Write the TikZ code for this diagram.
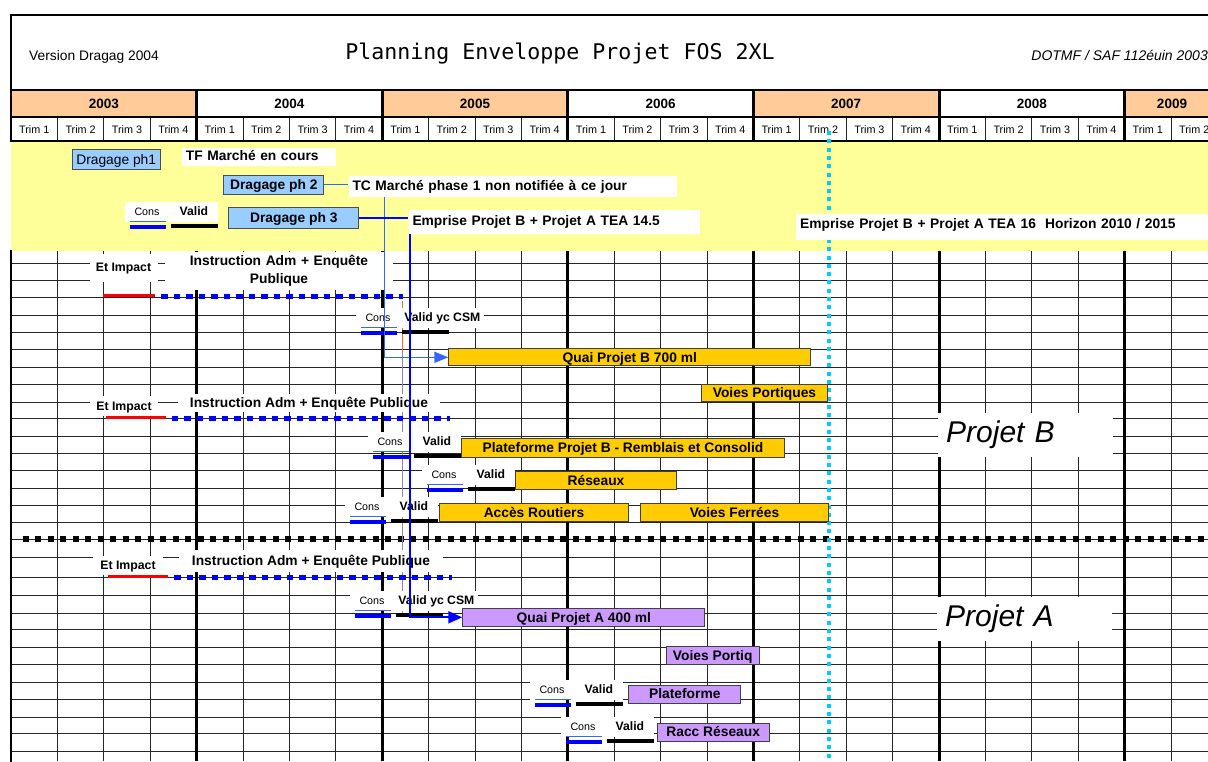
\documentclass[tikz,border=0pt]{standalone}
\usepackage{fontspec}
\setmainfont{Liberation Sans}
\newfontfamily\titlemono{DejaVu Sans Mono}
\usetikzlibrary{arrows.meta,positioning}
\definecolor{yearbg}{HTML}{FFCC99}
\definecolor{bandbg}{HTML}{FFFF99}
\definecolor{dredgebg}{HTML}{99CCFF}
\definecolor{projB}{HTML}{FFCC00}
\definecolor{projA}{HTML}{CC99FF}
\definecolor{milestone}{HTML}{00CCFF}
\definecolor{linkblue}{HTML}{3366FF}
\definecolor{deepblue}{HTML}{0000FF}
\definecolor{slate}{HTML}{8888C4}
\definecolor{amber}{HTML}{FF6A1A}
\newcommand{\bsz}{\fontsize{13.8}{18}\selectfont\bfseries}
% Cons / Valid pair: name, left end of the bars, y of the bars, valid text
\newcommand{\consval}[4]{%
  \node[cons] (#1c) at (#2+17,#3-14.5) {Cons};
  \node[valid, right=0pt of #1c] (#1v) {#4};
  \draw[consthin] (#2,#3-4.5) -- ++(36,0);
  \draw[consbar] (#2,#3+0.5) -- ++(36,0);
  \draw[validbar] (#2+41,#3) -- ++(47,0);}

\begin{document}
\begin{tikzpicture}[x=1pt, y=-1pt,
  every node/.style={inner sep=0pt},
  hdr/.style={font=\fontsize{13.8}{16}\selectfont},
  yrlbl/.style={anchor=base, font=\fontsize{13.5}{16}\selectfont\bfseries},
  trimlbl/.style={anchor=base, font=\fontsize{10.8}{12}\selectfont},
  frameln/.style={line width=2.5pt, line cap=rect},
  yearln/.style={line width=3pt},
  gridln/.style={draw=black!85, line width=0.9pt},
  dredge/.style={draw=black!70, fill=dredgebg, line width=1pt, anchor=west,
                 font=\bsz, text height=9.9pt, text depth=0pt},
  lbl/.style={fill=white, anchor=west, align=left, inner xsep=4pt,
              font=\bsz, text height=9.9pt, text depth=2pt},
  implbl/.style={fill=white, minimum width=68pt, minimum height=20pt,
                 font=\fontsize{12.3}{14}\selectfont\bfseries,
                 text height=8.8pt, text depth=0pt},
  inslbl/.style={fill=white, font=\bsz, align=center},
  cons/.style={fill=white, minimum width=44pt, minimum height=20pt,
               font=\fontsize{10.7}{12}\selectfont, text height=7.7pt, text depth=0pt},
  valid/.style={fill=white, minimum width=49pt, minimum height=20pt, inner xsep=4pt,
                font=\fontsize{12.2}{14}\selectfont\bfseries, text height=8.8pt, text depth=0pt},
  task/.style={draw=black!75, line width=1pt, anchor=west, minimum height=18pt,
               font=\bsz, text height=9.9pt, text depth=0pt},
  taskB/.style={task, fill=projB},
  taskA/.style={task, fill=projA},
  projlbl/.style={fill=white, anchor=west, align=left, text width=159pt, inner xsep=8pt,
                  minimum height=44pt, font=\fontsize{30}{34}\selectfont\itshape,
                  text height=21.5pt, text depth=6.6pt},
  consthin/.style={draw=linkblue, line width=1pt},
  consbar/.style={draw=deepblue, line width=4pt},
  validbar/.style={draw=black, line width=3.5pt},
  impbar/.style={draw=red, line width=3pt},
  insdots/.style={draw=deepblue, line width=5.5pt, dash pattern=on 6.5pt off 6pt},
  splitln/.style={draw=black, line width=6pt, dash pattern=on 6pt off 6.5pt},
  today/.style={draw=milestone, line width=4pt, dash pattern=on 4pt off 4.3pt},
  lnk/.style={draw=linkblue, line width=1.5pt},
  lnkB/.style={lnk, -{Triangle[length=14pt,width=11pt]}},
  lnkdeep/.style={draw=deepblue, line width=2pt},
  lnkA/.style={lnkdeep, -{Triangle[length=14pt,width=12pt]}}
]
\path[use as bounding box, clip] (0,0) rectangle (1208,761);
\fill[white] (0,0) rectangle (1208,761);

% years and quarters
\foreach \k/\yr/\fc in {0/2003/yearbg, 1/2004/white, 2/2005/yearbg, 3/2006/white,
                        4/2007/yearbg, 5/2008/white}{
  \fill[\fc] (11+185.6*\k,90) rectangle ++(185.6,27);
  \node[yrlbl] (y\yr) at (11+185.6*\k+92.8,108.3) {\yr};
}
\fill[yearbg] (1124.6,90) rectangle (1208,117);
\node[yrlbl] (y2009) at (1172,108.3) {2009};
\foreach \k in {0,...,25}{
  \pgfmathtruncatemacro{\q}{mod(\k,4)+1}
  \node[trimlbl] (t\k) at (11+46.4*\k+23.2,133.3) {Trim \q};
}
\fill[bandbg] (11,141) rectangle (1208,251);

% grid
\foreach \k in {1,...,25}{
  \draw[gridln] (11+46.4*\k,117) -- ++(0,24);
  \draw[gridln] (11+46.4*\k,251) -- (11+46.4*\k,761);
}
\foreach \r in {263,280,297,315,332,349,367,384,402,418,436,453,470,488,505,522,
                539,557,577,595,613,629,647,664,682,699,717,733,751}
  \draw[gridln] (11,\r) -- (1208,\r);
\foreach \k in {1,...,6}{
  \draw[yearln] (11+185.6*\k,90) -- ++(0,51);
  \draw[yearln] (11+185.6*\k,251) -- (11+185.6*\k,761);
}
\draw[frameln] (1208,15) -- (11,15) -- (11,141);
\draw[frameln] (11,251) -- (11,761);
\draw[frameln] (11,90) -- (1208,90);
\draw[frameln] (11,117) -- (1208,117);
\draw[frameln] (11,141) -- (1208,141);

\node[hdr, anchor=base west] (ver) at (29,60) {Version Dragag 2004};
\node[anchor=base, font=\titlemono\fontsize{21.6}{24}\selectfont] (title)
  at (560,59.3) {Planning Enveloppe Projet FOS 2XL};
\node[anchor=base east, font=\fontsize{14}{16}\selectfont\itshape] (dotmf)
  at (1208,60) {DOTMF / SAF 112éuin 2003};

% separators
\draw[splitln] (22.7,539.3) -- (1208,539.3);
\coordinate (todayTop) at (828.7,131);
\draw[today] (todayTop) -- (828.7,761);
\coordinate (insEnd) at (402.3,301);
\coordinate (relay) at (402.3,352);
\coordinate (relayEnd) at (402.3,617);
\draw[amber, line width=1.5pt] (insEnd) -- (relay);
\draw[slate, line width=1.5pt] (relay) -- (relayEnd);

% dredging
\node[dredge, minimum width=88pt, minimum height=20pt, font=\fontsize{13.8}{16}\selectfont]
  (dph1) at (71.7,159.3) {Dragage ph1};
\node[dredge, minimum width=100pt, minimum height=19pt] (dph2) at (223.3,184.7) {Dragage ph 2};
\node[dredge, minimum width=130pt, minimum height=21pt] (dph3) at (228.3,218) {Dragage ph 3};
\node[lbl, text width=146pt, minimum height=18pt] (tfm) at (181.7,156.7) {TF Marché en cours};
\node[lbl, text width=320pt, minimum height=21pt] (tcm) at (348.3,186.3)
  {TC Marché phase 1 non notifiée à ce jour};
\node[lbl, text width=283pt, minimum height=24pt] (emp1) at (408.3,222)
  {Emprise Projet B + Projet A TEA 14.5};
\node[lbl, text width=420pt, minimum height=26pt, text depth=6pt] (emp2) at (796,227)
  {Emprise Projet B + Projet A TEA 16\ \ Horizon 2010 / 2015};
\consval{cv0}{130}{226}{Valid}

% Projet B
\draw[impbar] (103.3,295.5) -- (155,295.5);
\draw[insdots] (161,296.7) -- (403,296.7);
\draw[impbar] (106,417.7) -- (165.7,417.7);
\draw[insdots] (171.7,418.3) -- (450,418.3);
\node[implbl, minimum height=28pt] (eti1) at (123.5,267.5) {Et Impact};
\node[inslbl, text width=220pt, minimum width=228pt, minimum height=38pt] (ins1)
  at (279,271) {Instruction Adm + Enquête\\Publique};
\consval{cvB1}{361}{332}{Valid yc CSM}
\node[taskB, minimum width=362pt, minimum height=17pt] (quaiB) at (448.3,357.3) {Quai Projet B 700 ml};
\node[taskB, minimum width=126pt, minimum height=17pt] (portB) at (701,393) {Voies Portiques};
\node[implbl] (eti2) at (124,406) {Et Impact};
\node[inslbl, minimum width=262pt, minimum height=18pt, text height=9.9pt, text depth=0pt]
  (ins2) at (309,402.5) {Instruction Adm + Enquête Publique};
\consval{cvB2}{373}{456}{Valid}
\node[taskB, minimum width=323pt, minimum height=19pt] (platB) at (461,447.8)
  {Plateforme Projet B - Remblais et Consolid};
\consval{cvB3}{427}{489}{Valid}
\node[taskB, minimum width=161pt] (resB) at (515,480.8) {Réseaux};
\consval{cvB4}{350}{521}{Valid}
\node[taskB, minimum width=189pt] (accB) at (439,512.5) {Accès Routiers};
\node[taskB, minimum width=188pt] (ferB) at (640,512.5) {Voies Ferrées};
\node[projlbl] (prjB) at (938,435) {Projet B};

% Projet A
\draw[impbar] (108.3,576.7) -- (167.7,576.7);
\draw[insdots] (174,577.5) -- (452,577.5);
\node[implbl, minimum width=70pt, minimum height=19pt] (eti3) at (128,565) {Et Impact};
\node[inslbl, minimum width=264pt, minimum height=22pt, text height=9.9pt, text depth=0pt]
  (ins3) at (311,561) {Instruction Adm + Enquête Publique};
\consval{cvA1}{355}{615}{Valid yc CSM}
\node[taskA, minimum width=242pt, minimum height=17.5pt] (quaiA) at (462.3,617.3) {Quai Projet A 400 ml};
\node[taskA, minimum width=93pt, minimum height=17.5pt] (portA) at (665.7,655.5) {Voies Portiq};
\consval{cvA2}{535}{704}{Valid}
\node[taskA, minimum width=112pt] (platA) at (628.3,694) {Plateforme};
\consval{cvA3}{566}{741}{Valid}
\node[taskA, minimum width=112pt] (raccA) at (656.7,732) {Racc Réseaux};
\node[projlbl] (prjA) at (937,619.3) {Projet A};

% links
\draw[lnk] (dph2.east) -- (dph2.east -| tcm.west);
\draw[lnkB] ([xshift=36pt]tcm.south west) |- (quaiB.west);
\draw[lnkdeep] (dph3.east) -- (dph3.east -| emp1.west);
\draw[lnkA] ([xshift=2pt]emp1.south west) |- (quaiA.west);
\end{tikzpicture}
\end{document}
